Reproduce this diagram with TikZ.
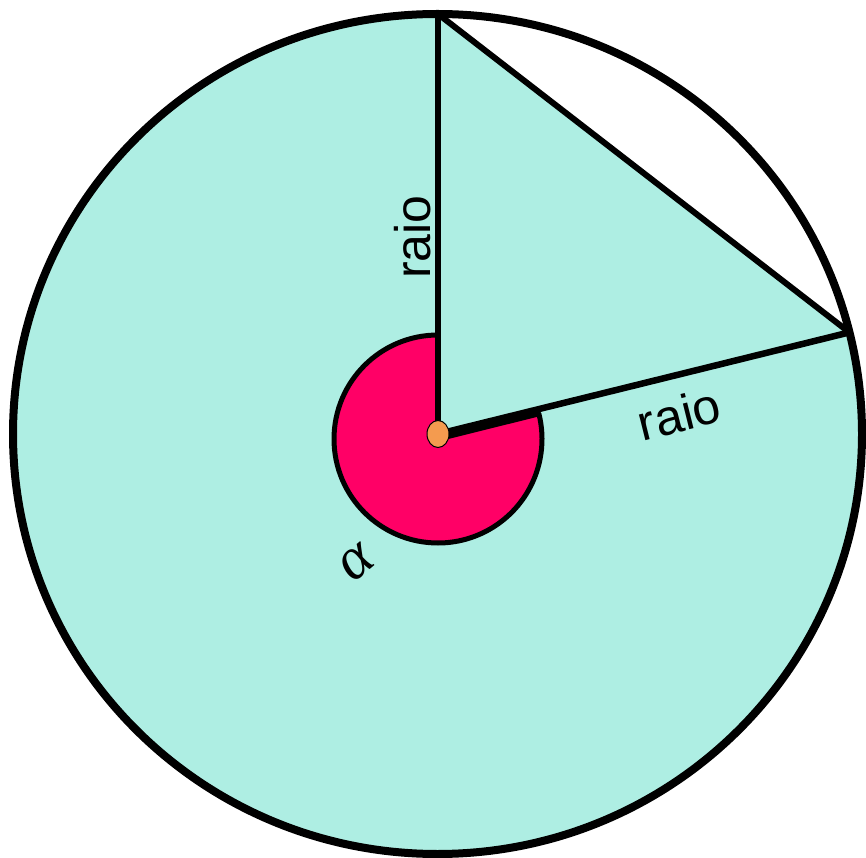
\documentclass[tikz,border=0pt]{standalone}
\usepackage{fontspec}
\setmainfont{Liberation Sans}
\newfontfamily\alphafont{Liberation Serif}
\usetikzlibrary{calc,shapes.geometric}
\definecolor{sectorcyan}{HTML}{AEEEE3}
\definecolor{anglered}{HTML}{FF0066}
\definecolor{dotorange}{HTML}{F49B4F}
\begin{document}
\begin{tikzpicture}[x=1pt,y=1pt,
  outline/.style={draw=black,line width=8pt},
  radius line/.style={draw=black,line width=6.5pt},
  chord line/.style={draw=black,line width=6pt},
  lbl/.style={font=\fontsize{50}{60}\selectfont,inner sep=0pt}]
\useasboundingbox (0,0) rectangle (866,857);
\coordinate (O) at (437.5,423);
\coordinate (C) at (438,423);
\coordinate (T) at (438,843);
\coordinate (P) at ($(O)+(14:424.5 and 420)$);
% circle fill
\fill[sectorcyan] (O) ellipse[x radius=424.5,y radius=420];
% white segment
\fill[white] (T) arc[start angle=90,end angle=14,x radius=424.5,y radius=420] -- cycle;
% red angle sector
\coordinate (S) at (438,418);
\filldraw[fill=anglered,draw=black,line width=5pt,line join=round]
  (S) -- ++(90:104) arc[start angle=90,end angle=374,radius=104] -- cycle;
% radii and chord
\draw[radius line] (C) -- (T);
\draw[radius line] (C) -- (P);
\draw[chord line,line join=miter] (T) -- (P);
% outline
\draw[outline] (O) ellipse[x radius=424.5,y radius=420];
% centre dot
\node[draw=black,line width=1pt,fill=dotorange,ellipse,minimum width=22pt,minimum height=27pt,inner sep=0pt] (dot) at (C) {};
% labels
\node[lbl,rotate=90] (r1) at (413,620) {raio};
\node[lbl,rotate=14] (r2) at (679,443) {raio};
\node[inner sep=0pt,rotate=40,font=\alphafont\itshape\fontsize{60}{66}\selectfont] (al) at (357,294) {α};
\end{tikzpicture}
\end{document}
